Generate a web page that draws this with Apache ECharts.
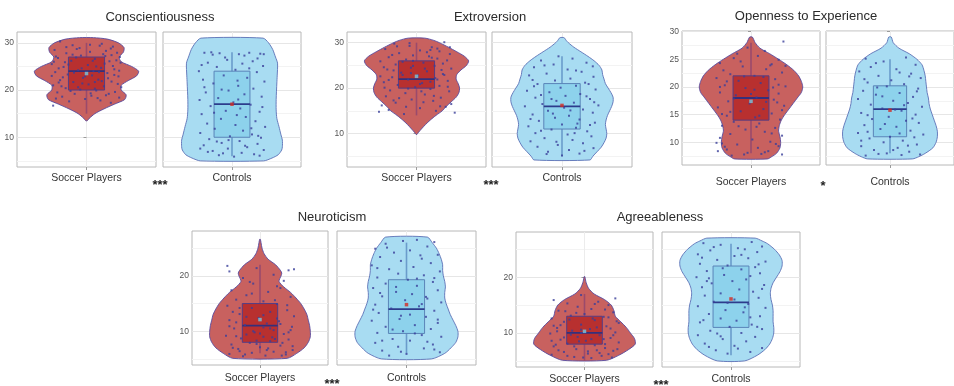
<!DOCTYPE html>
<html>
<head>
<meta charset="utf-8">
<script src="https://cdn.jsdelivr.net/npm/echarts@6/dist/echarts.min.js"></script>
<style>
  html, body { margin: 0; padding: 0; background: #fff; }
  #chart { width: 954px; height: 386px; }
</style>
</head>
<body>
<div id="chart"></div>
<script>
// ---- Data -----------------------------------------------------------------
const traits = ['Conscientiousness', 'Extroversion', 'Openness to Experience', 'Neuroticism', 'Agreeableness'];
const groups = ['Soccer Players', 'Controls'];
const significance = ['***', '***', '*', '***', '***'];
const yRanges = [[3.7, 32.3], [2.65, 32.35], [5.9, 30.1], [3.9, 28.1], [3.9, 28.1]];
const majorTicks = [[10, 20, 30], [10, 20, 30], [10, 15, 20, 25, 30], [10, 20], [10, 20]];
const minorTicks = [[5, 15, 25], [5, 15, 25], [7.5, 12.5, 17.5, 22.5, 27.5], [5, 15, 25], [5, 15, 25]];

// Violin density profiles: [score, relative half-width]
const consSoccerViolin = [[31.1,0.1],[30.8,0.3],[30,0.46],[29,0.54],[28,0.53],[27,0.47],[26,0.5],[25,0.65],[24,0.75],[23,0.72],[22,0.6],[21,0.5],[20,0.5],[19,0.57],[18,0.55],[17,0.4],[16,0.25],[15,0.12],[14,0.04],[13.5,0.01]];
const consControlViolin = [[31,0.45],[30,0.53],[28.6,0.59],[27,0.63],[25.7,0.66],[23,0.655],[21.5,0.65],[18,0.64],[15.8,0.64],[14,0.65],[12.3,0.68],[10.5,0.71],[9.4,0.73],[8,0.73],[7.3,0.72],[6.3,0.67],[5.6,0.58],[5,0.46]];
const extSoccerViolin = [[31,0.12],[30.5,0.25],[30,0.33],[29,0.46],[28,0.58],[27,0.69],[26,0.75],[25,0.72],[24,0.64],[23,0.58],[22,0.57],[21,0.6],[20,0.62],[19,0.61],[18,0.57],[17,0.5],[16,0.43],[15,0.37],[14,0.28],[13,0.2],[12,0.13],[11,0.07],[10.3,0.03],[9.8,0.005]];
const extControlViolin = [[31.1,0.03],[30.5,0.06],[30,0.09],[29,0.17],[28,0.27],[27,0.37],[26,0.46],[25,0.53],[24,0.57],[23,0.58],[22,0.6],[21,0.62],[20,0.66],[19,0.7],[18,0.73],[17,0.73],[16,0.71],[15,0.68],[14,0.65],[13,0.63],[12,0.62],[11,0.63],[10,0.64],[9,0.63],[8,0.6],[7,0.56],[6,0.5],[5,0.44],[4.2,0.4]];
const openSoccerViolin = [[29,0.02],[28,0.06],[27,0.13],[26,0.27],[25,0.4],[24,0.52],[23,0.62],[22,0.69],[21,0.73],[20,0.75],[19,0.73],[18,0.67],[17,0.61],[16,0.55],[15,0.49],[14,0.44],[13,0.41],[12,0.4],[11,0.42],[10,0.43],[9,0.42],[8,0.37],[7.4,0.3],[7,0.24]];
const openControlViolin = [[29,0.02],[28,0.05],[27,0.14],[26,0.3],[25,0.42],[24,0.5],[23,0.53],[22,0.55],[21,0.56],[20,0.57],[19,0.58],[18,0.6],[17,0.61],[16,0.63],[15,0.66],[14,0.69],[13,0.72],[12,0.74],[11,0.74],[10,0.72],[9,0.67],[8,0.55],[7.4,0.45],[7,0.35]];
const neurSoccerViolin = [[26.6,0.005],[26,0.015],[25,0.03],[24,0.06],[23,0.12],[22,0.23],[21,0.3],[20.5,0.32],[20,0.31],[19,0.28],[18,0.35],[17,0.45],[16,0.53],[15,0.6],[14,0.65],[13,0.69],[12,0.71],[11,0.73],[10,0.74],[9,0.74],[8,0.71],[7,0.65],[6,0.54],[5.1,0.4]];
const neurControlViolin = [[27,0.3],[26,0.37],[25,0.43],[24,0.47],[23,0.5],[22,0.52],[21,0.52],[20,0.53],[19,0.55],[18,0.56],[17,0.55],[16,0.55],[15,0.57],[14,0.6],[13,0.63],[12,0.67],[11,0.71],[10,0.74],[9,0.74],[8,0.71],[7,0.64],[6,0.55],[5,0.36]];
const agreeSoccerViolin = [[20.1,0.005],[19.5,0.015],[19,0.025],[18,0.06],[17,0.14],[16,0.29],[15,0.39],[14,0.43],[13,0.45],[12,0.53],[11,0.61],[10,0.67],[9,0.73],[8,0.74],[7,0.64],[6,0.5],[5.1,0.32]];
const agreeControlViolin = [[27,0.35],[26.5,0.45],[26,0.53],[25,0.63],[24,0.7],[23,0.74],[22,0.74],[21,0.71],[20,0.66],[19,0.61],[18,0.58],[17,0.57],[16,0.58],[15,0.6],[14,0.61],[13,0.61],[12,0.61],[11,0.62],[10,0.62],[9,0.6],[8,0.56],[7,0.49],[6,0.38],[5,0.2]];

// Box statistics: [lower whisker, Q1, median, Q3, upper whisker]
const consSoccerBox = [15, 20, 24, 27, 30];
const consControlBox = [6, 10, 17, 24, 28];
const extSoccerBox = [14, 20, 22, 26, 30];
const extControlBox = [5, 11, 16, 21, 27];
const openSoccerBox = [8, 14, 18, 22, 28];
const openControlBox = [8, 11, 16, 20.2, 25];
const neurSoccerBox = [6, 8, 11, 15, 22];
const neurControlBox = [6, 9.6, 14, 19.3, 26];
const agreeSoccerBox = [5, 8, 10, 13, 17];
const agreeControlBox = [6, 11, 15.5, 22, 26];

// Group means
const soccerMeans = [23.5, 22.6, 17.4, 12.1, 10.3];
const controlMeans = [17, 16.2, 15.8, 14.8, 16.1];

// Individual scores: [jitter offset, score]
const consSoccerPoints = [[-0.38,30.3],[0.19,29.4],[0.38,29.2],[-0.14,28.7],[-0.46,28.5],[0.05,28.1],[-0.29,27.8],[0.44,27.9],[0.27,27.2],[-0.08,27.3],[-0.41,26.8],[0.12,26.6],[0.33,26.1],[-0.22,26.2],[0.49,25.8],[-0.5,25.5],[0.02,25.3],[-0.33,24.9],[0.21,24.7],[0.4,24.4],[-0.12,24.2],[-0.45,23.8],[0.3,23.6],[0.08,23.1],[-0.27,23.3],[0.46,22.9],[-0.05,22.6],[0.17,22.2],[-0.38,22.1],[0.36,21.8],[-0.19,21.7],[0.03,21.2],[-0.48,21.0],[0.25,20.8],[0.5,20.6],[-0.3,20.4],[-0.09,20.1],[0.14,19.9],[0.41,19.6],[-0.42,19.5],[-0.17,19.2],[0.28,18.9],[0.07,18.8],[-0.35,18.6],[0.47,18.4],[-0.02,18.1],[0.2,17.8],[-0.25,17.6],[0.35,17.3],[-0.48,16.7],[0.1,24.0],[-0.31,25.9],[0.24,27.6],[-0.2,29.5],[0.43,26.3],[-0.06,21.4],[0.31,22.5],[-0.4,24.6],[0.12,20.3],[-0.23,19.8],[0.38,25.1],[-0.1,28.9],[0.28,28.3],[-0.44,27.1],[0.18,23.8],[-0.15,26.9],[0.45,21.3],[-0.36,20.8],[0.06,19.3],[0.22,29.8],
  [-0.26,25.4],[0.14,25.0],[0.36,27.4],[-0.47,26.0],[0.09,26.2],[-0.18,23.7],[0.4,23.2],[-0.34,22.7],[0.22,21.9],[-0.02,22.9],[0.47,24.1],[-0.12,20.6],[0.32,19.2],[-0.44,18.2],[0.16,18.3],[-0.29,29.1],[0.05,29.6],[0.35,28.8],[-0.07,24.6],[0.26,25.6],[-0.4,21.6],[0.12,21.7],[-0.2,27.5],[0.48,27.0],[-0.5,23.0]];
const consControlPoints = [[-0.4,27.9],[-0.3,28.0],[-0.18,27.8],[0.1,27.6],[0.25,27.9],[0.41,27.7],[0.46,27.6],[-0.07,26.4],[0.3,26.1],[-0.35,25.8],[0.15,25.6],[0.45,25.1],[-0.22,24.9],[-0.48,24.0],[0.05,24.3],[0.36,23.8],[-0.12,23.1],[0.22,22.6],[-0.42,22.2],[0.47,21.8],[-0.27,21.4],[0.09,20.9],[0.31,20.3],[-0.05,19.9],[-0.38,19.5],[0.18,19.1],[0.43,18.6],[-0.2,18.3],[-0.47,17.9],[0.02,17.4],[0.27,16.9],[-0.31,16.6],[0.12,16.1],[-0.09,15.6],[0.4,15.4],[-0.44,14.9],[0.2,14.3],[-0.16,13.9],[0.34,13.4],[-0.36,12.9],[0.05,12.6],[0.48,12.2],[-0.25,11.8],[0.16,11.4],[-0.46,10.9],[0.29,10.6],[-0.03,10.2],[0.42,9.9],[-0.33,9.6],[0.11,9.2],[-0.15,8.8],[0.37,8.6],[-0.41,8.3],[0.22,7.9],[-0.06,7.6],[0.46,7.3],[-0.28,7.1],[0.14,6.7],[0.32,6.4],[-0.19,6.2],[0.03,5.9],[-0.4,20.6],[0.25,24.6],[-0.1,26.9],[0.38,10.3],[-0.22,9.1],[0.07,14.7],[-0.35,6.9],
  [-0.28,27.5],[0.18,27.3],[0.37,26.7],[-0.44,25.3],[0.08,22.0],[-0.15,20.1],[0.44,16.4],[-0.26,15.2],[0.28,11.9],[-0.05,9.4],[0.19,8.2],[-0.46,7.6],[0.4,6.1],[-0.13,6.6],[0.09,18.0]];
const extSoccerPoints = [[-0.32,29.8],[0.4,30.1],[-0.1,29.3],[0.22,29.0],[-0.45,28.6],[0.05,28.3],[0.33,28.1],[-0.25,27.7],[0.48,27.5],[-0.05,27.2],[0.18,27.0],[-0.4,26.8],[0.3,26.5],[-0.15,26.3],[0.44,26.1],[-0.52,25.9],[0.1,25.6],[-0.3,25.2],[0.26,24.9],[-0.08,24.5],[0.5,24.3],[-0.42,24.1],[0.15,23.7],[-0.22,23.4],[0.38,23.1],[0.02,22.8],[-0.35,22.4],[0.27,22.2],[-0.12,21.9],[0.45,21.6],[-0.47,21.3],[0.08,21.1],[-0.27,20.7],[0.33,20.5],[-0.02,20.2],[0.2,19.8],[-0.38,19.5],[0.47,19.3],[-0.16,18.9],[0.12,18.6],[-0.44,18.2],[0.35,17.9],[-0.07,17.5],[0.24,17.2],[-0.3,16.8],[0.5,16.5],[-0.5,16.2],[0.42,15.9],[0.05,15.6],[-0.4,15.2],[0.28,15.0],[-0.54,14.8],[0.55,14.6],[-0.18,14.3],[0.15,27.9],[-0.33,23.9],[0.4,22.9],[-0.2,25.8],[0.07,19.3],[-0.1,29.9],[0.3,28.7],[-0.46,20.1],[0.2,21.4],[-0.25,17.8],[0.34,16.0],[-0.05,24.9],
  [-0.35,27.3],[0.22,26.7],[-0.05,26.0],[0.38,25.4],[-0.47,24.6],[0.12,24.3],[-0.2,22.9],[0.3,21.9],[-0.4,21.8],[0.05,20.9],[0.45,20.3],[-0.12,19.9],[0.25,18.3],[-0.33,17.3],[0.1,16.9],[-0.15,15.9],[0.2,28.4],[-0.28,29.2],[0.48,29.0],[-0.52,22.6],[0.36,24.0],[-0.08,23.3]];
const extControlPoints = [[-0.05,27.0],[0.15,26.5],[-0.3,26.1],[0.35,25.6],[-0.12,25.2],[0.44,24.8],[-0.4,24.6],[0.08,24.1],[0.28,23.6],[-0.22,23.2],[-0.47,22.8],[0.45,22.5],[0.12,22.1],[-0.1,21.7],[0.33,21.2],[-0.35,20.9],[0.2,20.5],[-0.02,20.1],[0.48,19.7],[-0.5,19.4],[-0.18,19.1],[0.26,18.7],[0.05,18.3],[-0.38,17.9],[0.4,17.6],[-0.08,17.2],[0.17,16.8],[-0.28,16.5],[0.52,16.2],[-0.53,16.0],[0.03,15.7],[0.3,15.3],[-0.2,15.0],[0.44,14.6],[-0.42,14.2],[0.1,13.9],[-0.1,13.5],[0.25,13.1],[-0.33,12.8],[0.47,12.4],[0.0,12.0],[-0.48,11.6],[0.2,11.3],[-0.15,10.9],[0.36,10.5],[-0.38,10.1],[0.08,9.8],[0.42,9.4],[-0.25,9.0],[0.15,8.6],[-0.45,8.3],[0.3,7.9],[-0.06,7.5],[-0.35,7.1],[0.45,6.8],[0.1,6.4],[-0.2,6.0],[0.25,5.6],[0.0,5.2],[-0.3,18.5],[0.38,20.9],[-0.13,14.4],[0.22,12.2],[-0.42,21.8],
  [-0.25,25.0],[0.2,23.9],[-0.4,20.4],[0.35,18.2],[-0.15,17.6],[0.12,15.1],[-0.45,13.2],[0.4,11.9],[-0.3,10.6],[0.18,10.1],[-0.08,8.2],[0.32,6.2],[-0.22,5.5],[0.46,16.9]];
const openSoccerPoints = [[0.47,28.2],[-0.05,27.1],[0.2,26.5],[-0.25,25.2],[0.1,25.6],[0.4,24.9],[-0.45,24.3],[0.3,24.1],[-0.12,23.7],[-0.4,23.0],[0.22,23.2],[0.45,22.6],[-0.3,22.3],[0.05,22.0],[-0.5,21.6],[0.35,21.4],[-0.18,21.1],[0.14,20.7],[-0.38,20.3],[0.5,20.1],[-0.08,19.8],[0.25,19.4],[-0.45,19.0],[0.4,18.8],[-0.22,18.5],[0.08,18.1],[0.33,17.7],[-0.33,17.4],[-0.02,17.0],[0.48,16.6],[-0.48,16.3],[0.18,16.0],[-0.15,15.6],[0.3,15.2],[-0.35,14.8],[0.06,14.5],[0.42,14.1],[-0.25,13.7],[0.12,13.4],[-0.42,13.0],[0.35,12.6],[-0.08,12.3],[0.2,11.9],[-0.3,11.5],[0.45,11.2],[-0.45,10.8],[0.02,10.5],[0.28,10.1],[-0.5,9.9],[-0.2,9.6],[0.4,9.3],[0.1,9.0],[-0.35,8.7],[0.25,8.4],[-0.05,8.1],[0.45,7.8],[-0.28,7.6],[0.15,7.9],[-0.42,9.8],[0.32,19.9],[-0.1,21.9],[0.5,23.8],[-0.2,26.0],[0.38,17.2],[-0.3,15.5],[0.08,12.8],
  [-0.15,24.6],[0.28,23.9],[-0.35,21.0],[0.18,21.8],[-0.45,20.0],[0.4,20.4],[0.0,18.7],[-0.25,17.9],[0.22,17.3],[0.45,15.8],[-0.42,15.1],[0.12,14.8],[-0.18,12.9],[0.3,11.6],[-0.38,9.2],[0.2,8.2],[-0.1,7.8],[0.36,9.7],[-0.48,8.4],[0.05,19.5]];
const openControlPoints = [[-0.38,25.1],[0.25,25.3],[-0.1,24.6],[0.4,24.0],[-0.3,23.6],[0.1,23.2],[-0.48,22.8],[0.33,22.4],[-0.18,22.0],[0.48,21.6],[0.02,21.2],[-0.35,20.8],[0.22,20.5],[-0.05,20.1],[0.44,19.7],[-0.42,19.3],[0.15,18.9],[-0.22,18.6],[0.36,18.2],[-0.5,17.8],[0.05,17.5],[0.28,17.1],[-0.3,16.8],[0.5,16.4],[-0.12,16.1],[0.18,15.7],[-0.45,15.3],[0.4,15.0],[-0.02,14.6],[-0.28,14.2],[0.25,13.9],[0.45,13.5],[-0.4,13.1],[0.1,12.8],[-0.15,12.4],[0.32,12.1],[-0.5,11.7],[0.52,11.4],[0.0,11.0],[-0.32,10.7],[0.2,10.3],[-0.1,10.0],[0.42,9.6],[-0.45,9.3],[0.12,9.0],[-0.25,8.6],[0.3,8.3],[-0.05,8.0],[0.47,7.8],[-0.38,7.6],[0.18,7.7],[-0.2,19.9],[0.3,21.9],[-0.35,11.9],[0.08,15.9],[0.38,10.9],
  [-0.22,24.3],[0.15,22.6],[-0.4,21.4],[0.42,19.2],[-0.12,18.3],[0.22,16.7],[-0.35,14.9],[0.35,14.3],[-0.08,13.3],[0.15,11.6],[-0.45,10.3],[0.28,9.4],[-0.18,7.9],[0.05,8.6]];
const neurSoccerPoints = [[-0.48,21.8],[0.5,21.2],[0.42,21.0],[-0.45,20.8],[-0.05,21.4],[0.2,20.2],[-0.25,19.6],[0.35,19.1],[-0.1,18.6],[0.3,17.8],[-0.42,17.4],[0.12,17.1],[-0.2,16.5],[0.45,16.2],[-0.35,15.7],[0.05,15.4],[0.25,14.9],[-0.48,14.6],[-0.12,14.2],[0.4,13.8],[0.15,13.5],[-0.3,13.1],[0.5,12.7],[-0.02,12.4],[-0.45,12.0],[0.28,11.8],[0.1,11.4],[-0.22,11.1],[0.47,10.8],[-0.38,10.5],[0.2,10.2],[-0.08,9.8],[0.35,9.5],[-0.5,9.2],[0.05,9.0],[-0.28,8.7],[0.42,8.5],[0.15,8.2],[-0.15,7.9],[-0.42,7.6],[0.3,7.4],[0.0,7.1],[-0.32,6.8],[0.48,6.6],[0.2,6.3],[-0.12,6.1],[-0.45,5.9],[0.38,5.8],[0.08,5.6],[-0.25,5.5],[0.25,12.3],[-0.35,11.6],[0.45,10.2],[-0.05,8.3],[0.12,6.9],[-0.2,9.4],[0.33,7.9],[-0.4,13.5],[0.05,10.7],[0.22,15.6],[-0.15,18.9],[0.38,6.2],[-0.3,6.4],[0.18,8.9],
  [-0.2,12.6],[0.3,11.3],[-0.45,10.9],[0.15,10.5],[-0.1,10.0],[0.42,9.8],[-0.35,9.1],[0.22,8.6],[-0.05,7.7],[0.48,7.3],[-0.4,7.0],[0.1,6.6],[-0.22,5.8],[0.32,5.6],[0.0,9.6],[-0.3,14.2],[0.4,14.7],[-0.12,16.8],[0.25,18.1],[0.05,12.9]];
const neurControlPoints = [[-0.05,26.3],[0.15,26.5],[0.4,26.1],[-0.3,25.8],[0.3,25.3],[-0.45,24.9],[0.05,24.6],[-0.18,24.2],[0.45,23.8],[-0.38,23.4],[0.22,23.1],[-0.08,22.7],[0.35,22.3],[-0.5,21.9],[0.1,21.6],[-0.25,21.2],[0.48,20.8],[-0.12,20.4],[0.25,20.1],[-0.42,19.7],[0.02,19.3],[0.38,18.9],[-0.3,18.6],[0.15,18.2],[-0.48,17.8],[0.45,17.4],[-0.15,17.1],[0.08,16.7],[-0.35,16.3],[0.3,15.9],[-0.02,15.6],[0.5,15.2],[-0.45,14.8],[0.18,14.5],[-0.22,14.1],[0.4,13.7],[-0.4,13.3],[0.05,13.0],[0.28,12.6],[-0.1,12.2],[-0.5,11.9],[0.45,11.5],[0.12,11.1],[-0.3,10.8],[0.35,10.4],[-0.05,10.0],[-0.42,9.7],[0.22,9.3],[0.5,9.0],[-0.2,8.6],[0.05,8.3],[-0.45,7.9],[0.38,7.6],[-0.12,7.2],[0.25,6.9],[-0.35,6.5],[0.48,6.2],[0.0,5.9],[-0.25,5.6],[0.15,19.5],[-0.38,16.9],[0.3,8.1],[-0.08,12.8],
  [-0.28,25.1],[0.2,23.7],[-0.42,21.4],[0.4,19.6],[-0.15,18.0],[0.28,16.2],[-0.48,13.9],[0.45,12.1],[-0.2,10.3],[0.12,9.6],[-0.35,8.3],[0.4,6.7],[-0.08,6.3],[0.22,14.9]];
const agreeSoccerPoints = [[-0.05,16.8],[0.45,16.2],[-0.45,15.9],[0.2,15.6],[-0.25,15.3],[0.35,15.0],[-0.1,14.7],[0.1,14.3],[-0.38,14.0],[0.42,13.7],[0.0,13.4],[-0.2,13.1],[0.28,12.9],[-0.48,12.6],[0.15,12.3],[-0.3,12.0],[0.5,11.8],[-0.05,11.5],[0.32,11.2],[-0.4,10.9],[0.08,10.7],[-0.18,10.4],[0.45,10.1],[-0.5,9.9],[0.22,9.6],[-0.1,9.3],[0.38,9.1],[-0.35,8.8],[0.02,8.6],[0.5,8.3],[-0.25,8.1],[0.15,7.8],[-0.45,7.6],[0.3,7.3],[-0.12,7.1],[0.42,6.8],[-0.3,6.6],[0.05,6.3],[-0.48,6.1],[0.25,5.9],[-0.15,5.7],[0.4,5.6],[0.1,5.5],[-0.35,11.4],[0.28,8.9],[-0.2,9.7],[0.12,12.6],[-0.42,7.9],[0.35,6.2],[-0.05,10.0],[0.47,12.1],[-0.28,13.9],[0.18,6.9],[-0.08,8.5],[0.3,14.2],[-0.4,10.3],
  [-0.22,12.4],[0.35,12.8],[-0.45,11.3],[0.18,11.0],[-0.05,10.6],[0.42,9.6],[-0.3,9.2],[0.1,8.9],[-0.48,8.6],[0.3,8.0],[-0.15,7.6],[0.48,7.1],[-0.38,6.9],[0.05,6.7],[0.22,6.4],[-0.25,5.9],[-0.02,5.6],[0.38,10.8],[-0.12,13.6],[0.15,15.2]];
const agreeControlPoints = [[-0.4,26.1],[0.3,26.3],[-0.15,25.8],[0.45,25.5],[0.1,25.2],[-0.3,24.8],[0.38,24.5],[-0.48,24.1],[0.05,23.8],[0.25,23.4],[-0.2,23.1],[0.5,22.8],[-0.45,22.4],[-0.05,22.1],[0.35,21.8],[0.15,21.4],[-0.35,21.1],[0.42,20.7],[-0.1,20.4],[-0.5,20.0],[0.22,19.6],[0.02,19.3],[-0.28,18.9],[0.48,18.6],[-0.42,18.2],[0.12,17.8],[0.32,17.4],[-0.15,17.1],[-0.38,16.7],[0.4,16.3],[0.05,16.0],[-0.25,15.6],[0.25,15.2],[-0.48,14.8],[0.5,14.5],[-0.08,14.1],[0.18,13.7],[-0.32,13.4],[0.42,13.0],[-0.15,12.6],[0.08,12.2],[-0.45,11.9],[0.3,11.5],[-0.02,11.1],[0.45,10.7],[-0.3,10.4],[0.15,10.0],[-0.48,9.6],[0.35,9.3],[-0.12,8.9],[0.22,8.5],[-0.38,8.1],[0.05,7.7],[0.45,7.3],[-0.22,6.9],[0.28,6.6],[-0.05,6.3],[0.15,24.0],[-0.32,19.8],[0.28,12.8],[-0.2,9.9],
  [-0.25,25.4],[0.2,25.0],[-0.42,23.5],[0.4,22.3],[-0.12,21.6],[0.28,20.2],[-0.35,19.3],[0.45,17.9],[-0.05,15.4],[0.2,14.6],[-0.4,12.3],[0.38,11.1],[-0.15,9.4],[0.1,7.2],[-0.32,7.5]];

const violins = [
  [consSoccerViolin, consControlViolin], [extSoccerViolin, extControlViolin],
  [openSoccerViolin, openControlViolin], [neurSoccerViolin, neurControlViolin],
  [agreeSoccerViolin, agreeControlViolin]
];
const boxes = [
  [consSoccerBox, consControlBox], [extSoccerBox, extControlBox],
  [openSoccerBox, openControlBox], [neurSoccerBox, neurControlBox],
  [agreeSoccerBox, agreeControlBox]
];
const points = [
  [consSoccerPoints, consControlPoints], [extSoccerPoints, extControlPoints],
  [openSoccerPoints, openControlPoints], [neurSoccerPoints, neurControlPoints],
  [agreeSoccerPoints, agreeControlPoints]
];
const means = [soccerMeans, controlMeans];

// ---- Layout & styling -----------------------------------------------------
// Plot boxes per trait: [left, top, width, height] for each group panel
const panelRects = [
  [[17, 32, 139, 135], [163, 32, 138, 135]],
  [[347, 32, 139, 135], [492, 32, 140, 135]],
  [[682, 31, 138, 134], [826, 31, 140, 134]],
  [[192, 231, 136, 134], [337, 231, 139, 134]],
  [[516, 232, 137, 135], [662, 232, 138, 135]]
];
const titlePos = [[160, 17], [490, 17], [806, 16], [332, 217], [660, 217]];
const starPos = [[160, 185], [491, 185], [823, 186], [332, 384], [661, 385]];
const labelMargin = [6, 6, 12, 8, 7];

const groupStyle = [
  { violin: '#c8615f', violinLine: '#574a9e', box: '#b8302f', boxLine: '#553d85',
    median: '#34307c', whisker: '#9a4a6c', mean: '#74c8e2' },
  { violin: '#a8dcf2', violinLine: '#5b70b6', box: '#8dd2ec', boxLine: '#5a84b8',
    median: '#2d3c8c', whisker: '#6a9ccb', mean: '#d42a22' }
];
const BOX_HW = 0.26;
const FONT = '"Liberation Sans", Arial, Helvetica, sans-serif';

function violinRenderer(profile, st) {
  return function (params, api) {
    if (params.dataIndex !== 0) return null;
    const right = profile.map(p => api.coord([p[1], p[0]]));
    const left = profile.slice().reverse().map(p => api.coord([-p[1], p[0]]));
    return {
      type: 'polygon',
      shape: { points: right.concat(left), smooth: 0.25 },
      style: { fill: st.violin, stroke: st.violinLine, lineWidth: 0.9 }
    };
  };
}

function boxRenderer(stats, st) {
  return function (params, api) {
    const lo = stats[0], q1 = stats[1], med = stats[2], q3 = stats[3], hi = stats[4];
    const wt = api.coord([0, hi]), wb = api.coord([0, lo]);
    const tl = api.coord([-BOX_HW, q3]), br = api.coord([BOX_HW, q1]);
    const ml = api.coord([-BOX_HW, med]), mr = api.coord([BOX_HW, med]);
    return {
      type: 'group',
      children: [
        { type: 'line', shape: { x1: wt[0], y1: wt[1], x2: wb[0], y2: wb[1] },
          style: { stroke: st.whisker, lineWidth: 1.6 } },
        { type: 'rect', shape: { x: tl[0], y: tl[1], width: br[0] - tl[0], height: br[1] - tl[1] },
          style: { fill: st.box, stroke: st.boxLine, lineWidth: 1 } },
        { type: 'line', shape: { x1: ml[0], y1: ml[1], x2: mr[0], y2: mr[1] },
          style: { stroke: st.median, lineWidth: 1.8 } }
      ]
    };
  };
}

const grid = [], xAxis = [], yAxis = [], series = [], graphic = [];

traits.forEach((trait, t) => {
  for (let g = 0; g < 2; g++) {
    const gi = t * 2 + g;
    const r = panelRects[t][g];
    const st = groupStyle[g];
    grid.push({ left: r[0], top: r[1], width: r[2], height: r[3], show: true,
      borderColor: '#b8b8b8', borderWidth: 1, backgroundColor: 'transparent' });
    xAxis.push({
      type: 'value', gridIndex: gi, min: -1, max: 1,
      axisLine: { show: false },
      axisTick: { show: true, length: 3, customValues: [0], lineStyle: { color: '#9a9a9a' } },
      axisLabel: { customValues: [0], formatter: () => groups[g], margin: labelMargin[t],
        fontSize: 10.5, color: '#333', fontFamily: FONT },
      splitLine: { show: true, lineStyle: { color: '#ececec', width: 1 } }
    });
    yAxis.push({
      type: 'value', gridIndex: gi, min: yRanges[t][0], max: yRanges[t][1], position: 'left',
      axisLine: { show: false },
      axisTick: { show: true, length: 3, customValues: majorTicks[t], lineStyle: { color: '#9a9a9a' } },
      axisLabel: { show: g === 0, customValues: majorTicks[t], margin: 3, fontSize: 8.5,
        color: '#555', fontFamily: FONT },
      splitLine: { show: true, lineStyle: { color: '#e6e6e6', width: 1 } }
    });
    yAxis.push({
      type: 'value', gridIndex: gi, min: yRanges[t][0], max: yRanges[t][1], position: 'left',
      axisLine: { show: false },
      axisTick: { show: false, customValues: minorTicks[t] },
      axisLabel: { show: false, customValues: minorTicks[t] },
      splitLine: { show: true, lineStyle: { color: '#f3f3f3', width: 1 } }
    });
    const yi = gi * 2;
    series.push({
      type: 'custom', xAxisIndex: gi, yAxisIndex: yi, z: 2, silent: true,
      renderItem: violinRenderer(violins[t][g], st),
      data: violins[t][g].map(p => [p[1], p[0]])
    });
    series.push({
      type: 'custom', xAxisIndex: gi, yAxisIndex: yi, z: 3, silent: true,
      renderItem: boxRenderer(boxes[t][g], st),
      data: [[0, boxes[t][g][2]]]
    });
    series.push({
      type: 'scatter', xAxisIndex: gi, yAxisIndex: yi, z: 4, silent: true,
      symbol: 'rect', symbolSize: 2,
      itemStyle: { color: '#3a3e9a', opacity: 0.8 },
      data: points[t][g]
    });
    series.push({
      type: 'scatter', xAxisIndex: gi, yAxisIndex: yi, z: 5, silent: true,
      symbol: 'rect', symbolSize: 3.5,
      itemStyle: { color: st.mean },
      data: [[0, means[g][t]]]
    });
  }
  graphic.push({ type: 'text', x: titlePos[t][0], y: titlePos[t][1], silent: true,
    style: { text: trait, align: 'center', verticalAlign: 'middle',
      font: '13px ' + FONT, fill: '#2b2b2b' } });
  graphic.push({ type: 'text', x: starPos[t][0], y: starPos[t][1], silent: true,
    style: { text: significance[t], align: 'center', verticalAlign: 'middle',
      font: 'bold 13px ' + FONT, fill: '#222' } });
});

const chart = echarts.init(document.getElementById('chart'), null, { renderer: 'canvas' });
chart.setOption({
  animation: false,
  backgroundColor: '#ffffff',
  grid, xAxis, yAxis, series, graphic
});
</script>
</body>
</html>
